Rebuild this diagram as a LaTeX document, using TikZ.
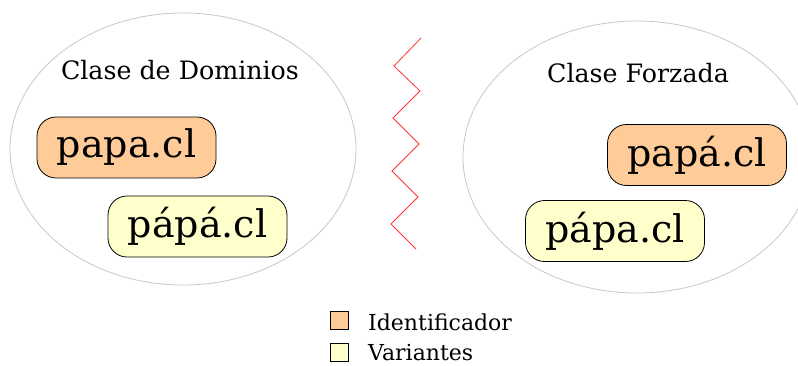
\documentclass[tikz,border=0pt]{standalone}
\usepackage{fontspec}
\setmainfont{DejaVu Serif}
\usepackage{tikz}

\definecolor{ident}{HTML}{FFCC99}
\definecolor{varia}{HTML}{FFFFCC}
\definecolor{borde}{HTML}{C8C8C8}

\begin{document}
\begin{tikzpicture}[x=1pt, y=-1pt,
    clase/.style={draw=borde, line width=0.8pt},
    nombre/.style={draw=black, line width=0.8pt, rounded corners=19pt,
      minimum width=179pt, minimum height=61pt, inner sep=0pt,
      font=\fontsize{38}{40}\selectfont},
    titulo/.style={font=\fontsize{25.3}{28}\selectfont},
    caja/.style={draw=black, line width=0.7pt, minimum size=18pt, inner sep=0pt},
    leyenda/.style={right, inner sep=0pt, font=\fontsize{22}{24}\selectfont}]
      % marco del dibujo
      \clip (0,0) rectangle (798,365);
      \fill[white] (0,0) rectangle (798,365);

      % las dos clases
      \draw[clase] (183,149) ellipse (173 and 136);
      \draw[clase] (637,157) ellipse (174 and 136);
      \node[titulo] (dom) at (180,70) {Clase de Dominios};
      \node[titulo] (forz) at (638,73) {Clase Forzada};

      % nombres dentro de cada clase
      \node[nombre, fill=ident] (papa) at (126.5,147.5) {papa.cl};
      \node[nombre, fill=varia] (papapa) at (197.5,226.5) {pápá.cl};
      \node[nombre, fill=ident] (papaf) at (697,155) {papá.cl};
      \node[nombre, fill=varia] (papaff) at (615,231) {pápa.cl};

      % separador en zigzag
      \draw[red!80, line width=0.8pt, line join=miter]
        (421,38) -- (394,66) -- (420,91) -- (393,118) -- (419,144)
        -- (392,171) -- (418,197) -- (391,224) -- (416,249);

      % leyenda
      \node[caja, fill=ident] (cid) at (339,320) {};
      \node[caja, fill=varia] (cva) at (339,352.5) {};
      \node[leyenda] (lid) at (368,322) {Identificador};
      \node[leyenda] (lva) at (368,353) {Variantes};
\end{tikzpicture}
\end{document}
